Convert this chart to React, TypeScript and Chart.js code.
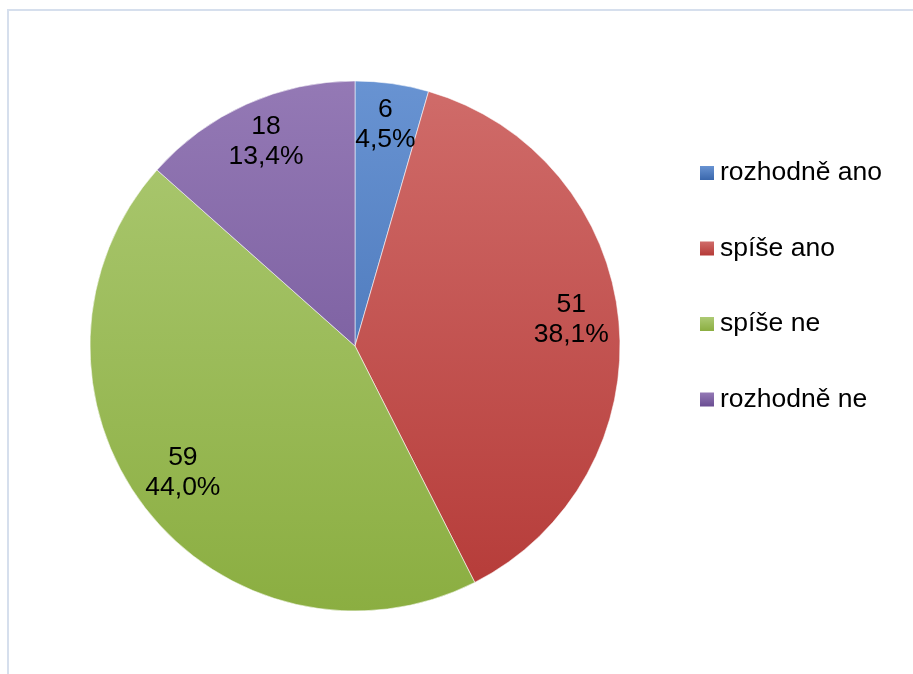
import React, { useEffect, useRef } from "react";
import { Chart, registerables } from "chart.js";

Chart.register(...registerables);

const categories = ["rozhodně ano", "spíše ano", "spíše ne", "rozhodně ne"];
const counts = [6, 51, 59, 18];
const percentLabels = ["4,5%", "38,1%", "44,0%", "13,4%"];
const topColors = ["#6893d2", "#d06c6a", "#adca74", "#9479b5"];
const bottomColors = ["#3a67ac", "#b53a37", "#8bae41", "#6a4d92"];

const FONT = "26.5px 'Liberation Sans', Arial, sans-serif";

const decorPlugin = {
  id: "decor",
  beforeDraw(chart: any) {
    const ctx = chart.ctx;
    ctx.save();
    ctx.fillStyle = "#d6dfed";
    ctx.fillRect(7, 9, 2, 674);
    ctx.fillRect(7, 9, 913, 2);
    ctx.restore();
  },
  afterDraw(chart: any) {
    const ctx = chart.ctx;
    const meta = chart.getDatasetMeta(0);
    ctx.save();
    ctx.font = FONT;
    ctx.fillStyle = "#000000";
    ctx.textAlign = "center";
    ctx.textBaseline = "middle";
    meta.data.forEach((arc: any, i: number) => {
      const { x, y, startAngle, endAngle, outerRadius } = arc.getProps(
        ["x", "y", "startAngle", "endAngle", "outerRadius"],
        true
      );
      const mid = (startAngle + endAngle) / 2;
      const r = outerRadius * 0.82;
      const cx = x + Math.cos(mid) * r;
      const cy = y + Math.sin(mid) * r - 6;
      ctx.fillText(String(counts[i]), cx, cy - 15);
      ctx.fillText(percentLabels[i], cx, cy + 15);
    });
    // legend
    const lx = 700;
    const ly0 = 173;
    const step = 75.5;
    categories.forEach((c, i) => {
      const yc = ly0 + i * step;
      const g = ctx.createLinearGradient(0, yc - 7, 0, yc + 7);
      g.addColorStop(0, topColors[i]);
      g.addColorStop(1, bottomColors[i]);
      ctx.fillStyle = g;
      ctx.fillRect(lx, yc - 7, 14, 14);
      ctx.fillStyle = "#000000";
      ctx.textAlign = "left";
      ctx.fillText(c, lx + 20, yc);
    });
    ctx.restore();
  },
};

export default function App() {
  const ref = useRef<HTMLCanvasElement | null>(null);
  useEffect(() => {
    if (!ref.current) return;
    const chart = new Chart(ref.current, {
      type: "pie",
      data: {
        labels: categories,
        datasets: [
          {
            data: counts,
            backgroundColor: (ctx: any) => {
              const chartArea = ctx.chart.chartArea;
              const i = ctx.dataIndex;
              if (!chartArea) return topColors[i];
              const g = ctx.chart.ctx.createLinearGradient(0, chartArea.top, 0, chartArea.bottom);
              g.addColorStop(0, topColors[i]);
              g.addColorStop(1, bottomColors[i]);
              return g;
            },
            borderColor: "rgba(255,255,255,0.55)",
            borderWidth: 1,
          },
        ],
      },
      options: {
        responsive: false,
        animation: false,
        layout: { padding: { left: 89.5, top: 80.5, right: 292.5, bottom: 62.5 } },
        plugins: {
          legend: { display: false },
          tooltip: { enabled: false },
        },
      },
      plugins: [decorPlugin],
    });
    return () => chart.destroy();
  }, []);
  return (
    <div style={{ position: "fixed", left: 0, top: 0, width: 913, height: 674, background: "#ffffff" }}>
      <canvas ref={ref} width={913} height={674} style={{ display: "block" }} />
    </div>
  );
}
